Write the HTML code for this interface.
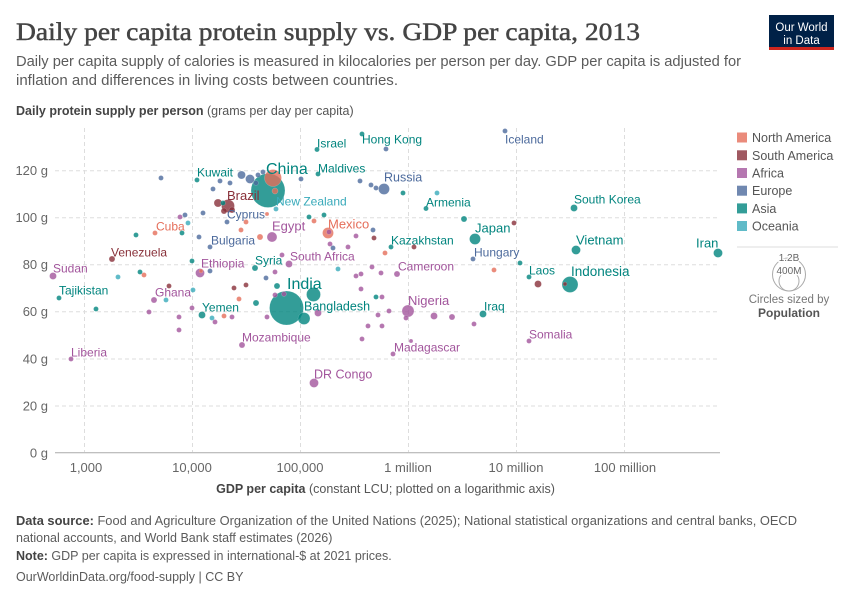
<!DOCTYPE html>
<html><head><meta charset="utf-8"><style>
html,body{margin:0;padding:0;background:#fff;}
svg{display:block;font-family:"Liberation Sans",sans-serif;}
.as{fill:#00847E}.eu{fill:#4C6A9C}.af{fill:#A2559C}.na{fill:#E56E5A}.sa{fill:#883039}.oc{fill:#38AABA}
circle.d{fill-opacity:.8;stroke:#fff;stroke-width:.3;stroke-opacity:.5}
.lab{font-size:12px}
.lt{fill:#00847E}.le{fill:#4C6A9C}.lf{fill:#A2559C}.ln{fill:#E56E5A}.ls{fill:#883039}.lo{fill:#38AABA}
.tick{font-size:13px;fill:#666}
.grid{stroke:#ddd;stroke-width:1;stroke-dasharray:4,3}
</style></head><body>
<svg width="850" height="600" viewBox="0 0 850 600" xmlns="http://www.w3.org/2000/svg">
<rect width="850" height="600" fill="#fff"/>
<!-- Header -->
<text x="16" y="40" font-family="Liberation Serif,serif" font-size="25" fill="#444" stroke="#444" stroke-width="0.45" textLength="624" lengthAdjust="spacingAndGlyphs">Daily per capita protein supply vs. GDP per capita, 2013</text>
<text x="16" y="66" font-size="15" fill="#5b5b5b" textLength="725" lengthAdjust="spacingAndGlyphs">Daily per capita supply of calories is measured in kilocalories per person per day. GDP per capita is adjusted for</text>
<text x="16" y="85" font-size="15" fill="#5b5b5b" textLength="382" lengthAdjust="spacingAndGlyphs">inflation and differences in living costs between countries.</text>
<rect x="769" y="15" width="65" height="35" fill="#002147"/>
<rect x="769" y="47" width="65" height="3" fill="#ce261e"/>
<text x="801.5" y="31" font-size="11.5" fill="#fff" text-anchor="middle">Our World</text>
<text x="801.5" y="44" font-size="11.5" fill="#fff" text-anchor="middle">in Data</text>
<text x="16" y="115" font-size="12.5" fill="#555"><tspan font-weight="bold" fill="#444">Daily protein supply per person</tspan> (grams per day per capita)</text>

<!-- Grid -->
<g class="grid">
<line x1="55" x2="720" y1="406" y2="406"/>
<line x1="55" x2="720" y1="359" y2="359"/>
<line x1="55" x2="720" y1="311.7" y2="311.7"/>
<line x1="55" x2="720" y1="264.7" y2="264.7"/>
<line x1="55" x2="720" y1="217.7" y2="217.7"/>
<line x1="55" x2="720" y1="170.7" y2="170.7"/>
<line x1="84.5" x2="84.5" y1="128" y2="452"/>
<line x1="192.5" x2="192.5" y1="128" y2="452"/>
<line x1="300.5" x2="300.5" y1="128" y2="452"/>
<line x1="408.5" x2="408.5" y1="128" y2="452"/>
<line x1="516.5" x2="516.5" y1="128" y2="452"/>
<line x1="624.5" x2="624.5" y1="128" y2="452"/>
</g>
<line x1="55" x2="720" y1="452.7" y2="452.7" stroke="#aaa" stroke-width="1"/>
<g class="tick" text-anchor="end">
<text x="48" y="457.5">0 g</text>
<text x="48" y="410.5">20 g</text>
<text x="48" y="363.5">40 g</text>
<text x="48" y="316">60 g</text>
<text x="48" y="269">80 g</text>
<text x="48" y="222">100 g</text>
<text x="48" y="175">120 g</text>
</g>
<g class="tick" text-anchor="middle">
<text x="86" y="472">1,000</text>
<text x="192" y="472">10,000</text>
<text x="300" y="472">100,000</text>
<text x="408" y="472">1 million</text>
<text x="516" y="472">10 million</text>
<text x="625" y="472">100 million</text>
</g>
<text x="385.5" y="493" font-size="12.5" fill="#555" text-anchor="middle"><tspan font-weight="bold" fill="#444">GDP per capita</tspan> (constant LCU; plotted on a logarithmic axis)</text>

<!-- Dots -->
<g>
<circle class="d as" cx="268" cy="190.5" r="17"/>
<circle class="d as" cx="286.5" cy="308" r="17"/>
<circle class="d na" cx="273" cy="178" r="8.5"/>
<circle class="d as" cx="570" cy="284.5" r="8"/>
<circle class="d as" cx="313.5" cy="294.5" r="7"/>
<circle class="d as" cx="304" cy="318.5" r="6"/>
<circle class="d af" cx="408" cy="311" r="6"/>
<circle class="d sa" cx="228" cy="206" r="6.5"/>
<circle class="d sa" cx="218" cy="203" r="4"/>
<circle class="d sa" cx="224" cy="211" r="3"/>
<circle class="d sa" cx="232" cy="210" r="3"/>
<circle class="d as" cx="223" cy="203" r="2.5"/>
<circle class="d eu" cx="384" cy="189" r="5.5"/>
<circle class="d as" cx="475" cy="239" r="5.5"/>
<circle class="d na" cx="328" cy="233" r="5.5"/>
<circle class="d af" cx="272" cy="237" r="5"/>
<circle class="d af" cx="200" cy="273" r="4.5"/>
<circle class="d af" cx="314" cy="383" r="4.5"/>
<circle class="d as" cx="576" cy="250" r="4.5"/>
<circle class="d as" cx="718" cy="253" r="4.5"/>
<circle class="d eu" cx="241.5" cy="175" r="4"/>
<circle class="d eu" cx="250" cy="179" r="4.5"/>
<circle class="d as" cx="574" cy="208" r="3.5"/>
<circle class="d as" cx="483" cy="314" r="3.5"/>
<circle class="d as" cx="202" cy="315" r="3.5"/>
<circle class="d af" cx="289" cy="264" r="3.5"/>
<circle class="d af" cx="53" cy="276" r="3.5"/>
<circle class="d af" cx="318" cy="313" r="3.5"/>
<circle class="d af" cx="434" cy="316" r="3.5"/>
<circle class="d sa" cx="538" cy="284" r="3.5"/>
<circle class="d as" cx="529" cy="277" r="2.5"/>
<circle class="d as" cx="520" cy="263" r="2.5"/>
<circle class="d as" cx="255" cy="268" r="3"/>
<circle class="d as" cx="391" cy="247" r="2.5"/>
<circle class="d as" cx="426" cy="208.5" r="2.5"/>
<circle class="d as" cx="464" cy="219" r="3"/>
<circle class="d as" cx="197" cy="180" r="2.5"/>
<circle class="d as" cx="317" cy="149.5" r="2.5"/>
<circle class="d as" cx="318" cy="174" r="2.5"/>
<circle class="d as" cx="362" cy="134" r="2.5"/>
<circle class="d as" cx="403" cy="193" r="2.5"/>
<circle class="d as" cx="59" cy="298" r="2.5"/>
<circle class="d as" cx="96" cy="309" r="2.5"/>
<circle class="d as" cx="140" cy="272" r="2.5"/>
<circle class="d as" cx="136" cy="235" r="2.5"/>
<circle class="d as" cx="182" cy="233" r="2.5"/>
<circle class="d as" cx="192" cy="261" r="2.5"/>
<circle class="d as" cx="256" cy="303" r="3"/>
<circle class="d as" cx="277" cy="286" r="3"/>
<circle class="d as" cx="376" cy="297" r="2.5"/>
<circle class="d as" cx="309" cy="217" r="2.5"/>
<circle class="d as" cx="324" cy="215" r="2.5"/>
<circle class="d eu" cx="505" cy="131" r="2.5"/>
<circle class="d eu" cx="473" cy="259" r="2.5"/>
<circle class="d eu" cx="199" cy="237" r="2.5"/>
<circle class="d eu" cx="203" cy="213" r="2.5"/>
<circle class="d eu" cx="227" cy="222" r="2.5"/>
<circle class="d eu" cx="161" cy="178" r="2.5"/>
<circle class="d eu" cx="220" cy="181" r="2.5"/>
<circle class="d eu" cx="230" cy="183" r="2.5"/>
<circle class="d eu" cx="258" cy="175" r="2.5"/>
<circle class="d eu" cx="263" cy="172" r="2.5"/>
<circle class="d eu" cx="256" cy="183" r="2.5"/>
<circle class="d eu" cx="213" cy="189" r="2.5"/>
<circle class="d eu" cx="301" cy="179" r="2.5"/>
<circle class="d eu" cx="360" cy="181" r="2.5"/>
<circle class="d eu" cx="371" cy="185" r="2.5"/>
<circle class="d eu" cx="376" cy="188" r="2.5"/>
<circle class="d eu" cx="386" cy="149" r="2.5"/>
<circle class="d eu" cx="185" cy="215" r="2.5"/>
<circle class="d eu" cx="210" cy="247" r="2.5"/>
<circle class="d eu" cx="210" cy="271" r="2.5"/>
<circle class="d eu" cx="266" cy="278" r="2.5"/>
<circle class="d eu" cx="333" cy="248" r="2.5"/>
<circle class="d eu" cx="373" cy="230" r="2.5"/>
<circle class="d na" cx="275" cy="191" r="3"/>
<circle class="d na" cx="267" cy="214" r="2"/>
<circle class="d na" cx="314" cy="221" r="2.5"/>
<circle class="d na" cx="155" cy="233" r="2.5"/>
<circle class="d na" cx="144" cy="275" r="2.5"/>
<circle class="d na" cx="224" cy="316" r="2.5"/>
<circle class="d na" cx="239" cy="299" r="2.5"/>
<circle class="d na" cx="241" cy="230" r="2.5"/>
<circle class="d na" cx="246" cy="222" r="2.5"/>
<circle class="d na" cx="260" cy="237" r="3"/>
<circle class="d na" cx="385" cy="253" r="2.5"/>
<circle class="d na" cx="494" cy="270" r="2.5"/>
<circle class="d na" cx="201" cy="271" r="2"/>
<circle class="d sa" cx="112" cy="259" r="3"/>
<circle class="d sa" cx="374" cy="238" r="2.5"/>
<circle class="d sa" cx="414" cy="247" r="2.5"/>
<circle class="d sa" cx="514" cy="223" r="2.5"/>
<circle class="d sa" cx="565" cy="284" r="2"/>
<circle class="d sa" cx="169" cy="286" r="2.5"/>
<circle class="d sa" cx="234" cy="288" r="2.5"/>
<circle class="d sa" cx="246" cy="285" r="2.5"/>
<circle class="d af" cx="71" cy="359" r="2.5"/>
<circle class="d af" cx="154" cy="300" r="3"/>
<circle class="d af" cx="242" cy="345" r="3"/>
<circle class="d af" cx="393" cy="354" r="2.5"/>
<circle class="d af" cx="529" cy="341" r="2.5"/>
<circle class="d af" cx="397" cy="274" r="3"/>
<circle class="d af" cx="329" cy="232" r="2.5"/>
<circle class="d af" cx="180" cy="217" r="2.5"/>
<circle class="d af" cx="282" cy="255" r="2.5"/>
<circle class="d af" cx="275" cy="272" r="2.5"/>
<circle class="d af" cx="330" cy="244" r="2.5"/>
<circle class="d af" cx="348" cy="247" r="2.5"/>
<circle class="d af" cx="356" cy="236" r="2.5"/>
<circle class="d af" cx="192" cy="308" r="2.5"/>
<circle class="d af" cx="149" cy="312" r="2.5"/>
<circle class="d af" cx="179" cy="317" r="2.5"/>
<circle class="d af" cx="179" cy="330" r="2.5"/>
<circle class="d af" cx="215" cy="322" r="2.5"/>
<circle class="d af" cx="232" cy="317" r="2.5"/>
<circle class="d af" cx="267" cy="317" r="2.5"/>
<circle class="d af" cx="284" cy="294" r="2.5"/>
<circle class="d af" cx="275" cy="295" r="2.5"/>
<circle class="d af" cx="356" cy="276" r="2.5"/>
<circle class="d af" cx="361" cy="274" r="2.5"/>
<circle class="d af" cx="372" cy="267" r="2.5"/>
<circle class="d af" cx="381" cy="273" r="2.5"/>
<circle class="d af" cx="361" cy="289" r="2.5"/>
<circle class="d af" cx="382" cy="297" r="2.5"/>
<circle class="d af" cx="389" cy="311" r="2.5"/>
<circle class="d af" cx="378" cy="315" r="2.5"/>
<circle class="d af" cx="406" cy="318" r="2.5"/>
<circle class="d af" cx="452" cy="317" r="3"/>
<circle class="d af" cx="474" cy="324" r="2.5"/>
<circle class="d af" cx="368" cy="326" r="2.5"/>
<circle class="d af" cx="382" cy="326" r="2.5"/>
<circle class="d af" cx="362" cy="339" r="2.5"/>
<circle class="d af" cx="411" cy="341" r="2"/>
<circle class="d oc" cx="276" cy="209" r="2.5"/>
<circle class="d oc" cx="437" cy="193" r="2.5"/>
<circle class="d oc" cx="188" cy="223" r="2.5"/>
<circle class="d oc" cx="118" cy="277" r="2.5"/>
<circle class="d oc" cx="166" cy="300" r="2.5"/>
<circle class="d oc" cx="193" cy="290" r="2.5"/>
<circle class="d oc" cx="212" cy="318" r="2.5"/>
<circle class="d oc" cx="338" cy="269" r="2.5"/>
</g>

<!-- Labels -->
<g class="lab">
<text x="266" y="174" font-size="16" class="lt">China</text>
<text x="197" y="176.5" class="lt">Kuwait</text>
<text x="317" y="147.5" class="lt">Israel</text>
<text x="362" y="143.5" class="lt">Hong Kong</text>
<text x="318" y="172.5" class="lt">Maldives</text>
<text x="505" y="143.5" class="le">Iceland</text>
<text x="384" y="181.5" font-size="12.5" class="le">Russia</text>
<text x="227" y="200" font-size="13" class="ls">Brazil</text>
<text x="276" y="205.5" class="lo">New Zealand</text>
<text x="426" y="206.5" class="lt">Armenia</text>
<text x="574" y="203.5" class="lt">South Korea</text>
<text x="227" y="218.5" class="le">Cyprus</text>
<text x="156" y="230.5" class="ln">Cuba</text>
<text x="328" y="228.5" font-size="13" class="ln">Mexico</text>
<text x="272" y="230.5" font-size="13" class="lf">Egypt</text>
<text x="475" y="232.5" font-size="13" class="lt">Japan</text>
<text x="211" y="244.5" class="le">Bulgaria</text>
<text x="391" y="244.5" class="lt">Kazakhstan</text>
<text x="576" y="244.5" font-size="13" class="lt">Vietnam</text>
<text x="696" y="247.5" font-size="13" class="lt">Iran</text>
<text x="111" y="256.5" class="ls">Venezuela</text>
<text x="474" y="256.5" class="le">Hungary</text>
<text x="290" y="260.5" class="lf">South Africa</text>
<text x="255" y="264.5" class="lt">Syria</text>
<text x="201" y="267.5" class="lf">Ethiopia</text>
<text x="398" y="270.5" class="lf">Cameroon</text>
<text x="53" y="272.5" class="lf">Sudan</text>
<text x="529" y="274.5" class="lt">Laos</text>
<text x="571" y="276" font-size="13.5" class="lt">Indonesia</text>
<text x="287" y="289" font-size="16" class="lt">India</text>
<text x="59" y="294.5" class="lt">Tajikistan</text>
<text x="155" y="296.5" class="lf">Ghana</text>
<text x="408" y="305" font-size="13" class="lf">Nigeria</text>
<text x="304" y="310.5" font-size="12.5" class="lt">Bangladesh</text>
<text x="484" y="310.5" class="lt">Iraq</text>
<text x="202" y="311.5" class="lt">Yemen</text>
<text x="529" y="338.5" class="lf">Somalia</text>
<text x="242" y="341.5" class="lf">Mozambique</text>
<text x="394" y="351.5" class="lf">Madagascar</text>
<text x="71" y="356.5" class="lf">Liberia</text>
<text x="314" y="378.5" font-size="12.5" class="lf">DR Congo</text>
</g>

<!-- Legend -->
<g font-size="12.5" fill="#555">
<rect x="737" y="132.5" width="10" height="10" class="na" fill-opacity=".8"/>
<text x="752" y="142">North America</text>
<rect x="737" y="150.3" width="10" height="10" class="sa" fill-opacity=".8"/>
<text x="752" y="159.8">South America</text>
<rect x="737" y="168" width="10" height="10" class="af" fill-opacity=".8"/>
<text x="752" y="177.5">Africa</text>
<rect x="737" y="185.7" width="10" height="10" class="eu" fill-opacity=".8"/>
<text x="752" y="195.2">Europe</text>
<rect x="737" y="203.4" width="10" height="10" class="as" fill-opacity=".8"/>
<text x="752" y="212.9">Asia</text>
<rect x="737" y="221" width="10" height="10" class="oc" fill-opacity=".8"/>
<text x="752" y="230.5">Oceania</text>
</g>
<line x1="737" x2="838" y1="247" y2="247" stroke="#ddd"/>
<circle cx="789" cy="274.5" r="16.5" fill="none" stroke="#aaa" stroke-width="1"/>
<circle cx="789" cy="281" r="10" fill="none" stroke="#aaa" stroke-width="1"/>
<text x="789" y="261" font-size="10" fill="#666" text-anchor="middle" stroke="#fff" stroke-width="2.5" paint-order="stroke">1.2B</text>
<text x="789" y="274" font-size="10" fill="#666" text-anchor="middle" stroke="#fff" stroke-width="2.5" paint-order="stroke">400M</text>
<text x="789" y="303" font-size="11.5" fill="#777" text-anchor="middle">Circles sized by</text>
<text x="789" y="317" font-size="12" font-weight="bold" fill="#555" text-anchor="middle">Population</text>

<!-- Footer -->
<g font-size="12.5" fill="#5b5b5b">
<text x="16" y="525" textLength="781" lengthAdjust="spacingAndGlyphs"><tspan font-weight="bold" fill="#444">Data source:</tspan> Food and Agriculture Organization of the United Nations (2025); National statistical organizations and central banks, OECD</text>
<text x="16" y="542">national accounts, and World Bank staff estimates (2026)</text>
<text x="16" y="560"><tspan font-weight="bold" fill="#444">Note:</tspan> GDP per capita is expressed in international-$ at 2021 prices.</text>
<text x="16" y="581">OurWorldinData.org/food-supply | CC BY</text>
</g>
</svg>
</body></html>
